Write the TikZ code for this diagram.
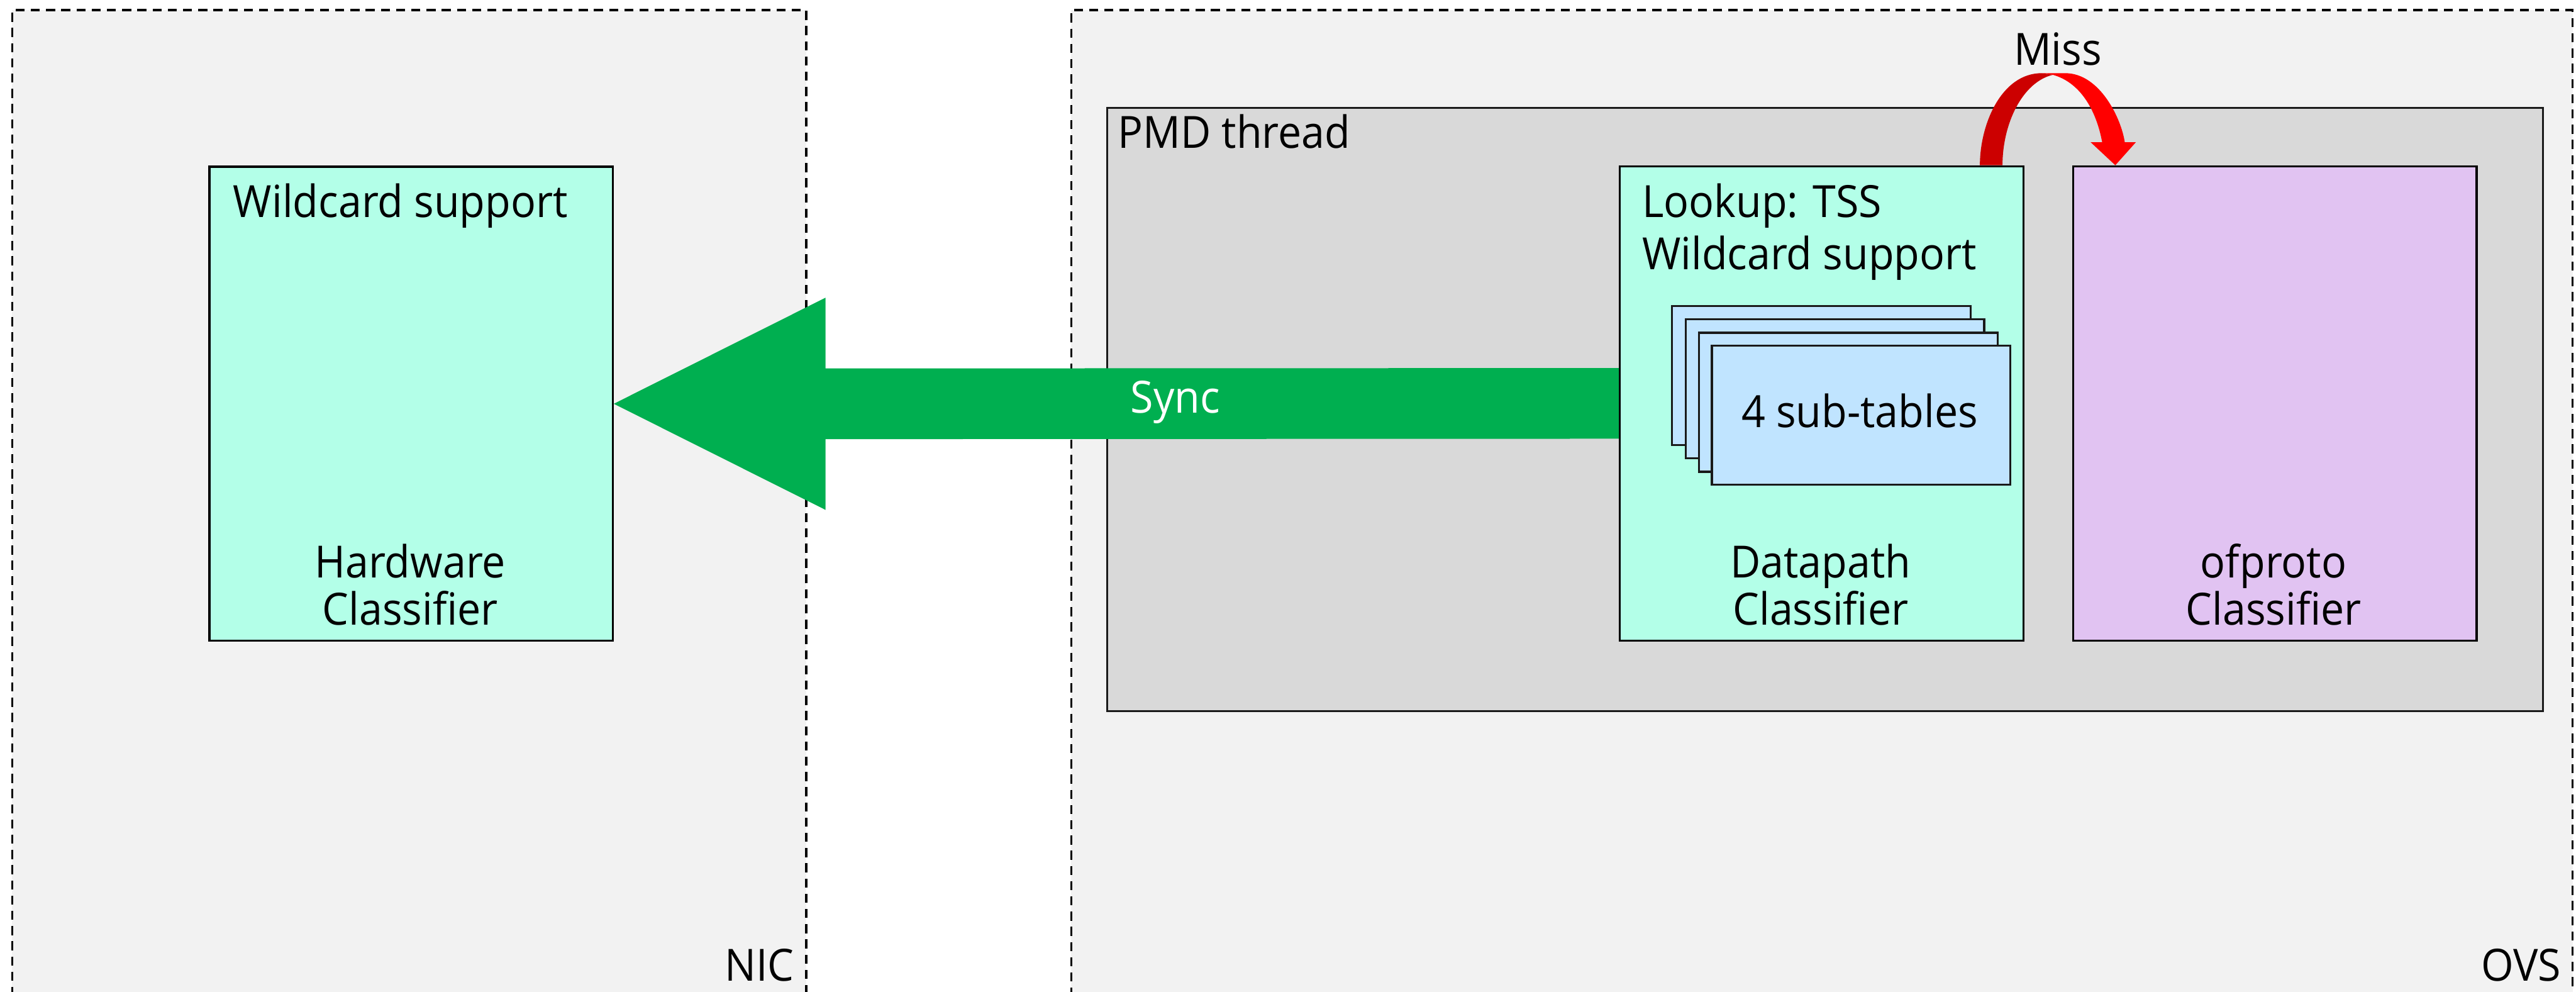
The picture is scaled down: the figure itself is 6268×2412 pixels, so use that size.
\documentclass[tikz,border=0pt]{standalone}
\usepackage{fontspec}
\setmainfont[FakeStretch=0.94]{Open Sans}
\usetikzlibrary{calc}

\definecolor{panelgray}{HTML}{F2F2F2}
\definecolor{pmdgray}{HTML}{D9D9D9}
\definecolor{aqua}{HTML}{B3FFE8}
\definecolor{lilac}{HTML}{E1C3F2}
\definecolor{tableblue}{HTML}{C0E4FF}
\definecolor{syncgreen}{HTML}{00AF50}
\definecolor{missdark}{HTML}{CC0000}
\definecolor{missred}{HTML}{FF0000}
\definecolor{edgegray}{HTML}{1A1A1A}

\begin{document}
\begin{tikzpicture}[x=0.01cm, y=-0.01cm,
  lbl/.style={inner sep=0pt, font=\fontsize{30.7pt}{36pt}\selectfont},
  dombox/.style={rectangle, anchor=north west, inner sep=0pt, draw=black, fill=panelgray,
                 line width=1.42pt, dash pattern=on 6.26pt off 4.27pt},
  pmdbox/.style={rectangle, anchor=north west, inner sep=0pt, draw=edgegray, fill=pmdgray,
                 line width=1.4pt},
  classbox/.style={rectangle, anchor=north west, inner sep=0pt, draw=black, line width=1.4pt,
                   minimum width=9.81cm, minimum height=11.53cm},
  subtable/.style={rectangle, anchor=north west, inner sep=0pt, draw=edgegray, fill=tableblue,
                   line width=1.4pt, minimum width=7.26cm, minimum height=3.38cm}]

% page frame
\useasboundingbox (0,0) rectangle (6268,2412);
\clip (0,0) rectangle (6268,2412);
\fill[white] (0,0) rectangle (6268,2412);

% NIC and OVS domains (open at the bottom of the page)
\node[dombox, minimum width=19.31cm, minimum height=24.60cm] (nic) at (27,22) {};
\node[dombox, minimum width=36.51cm, minimum height=24.60cm] (ovs) at (2604,22) {};
\node[lbl, anchor=base east] (niclbl) at (1933,2386) {NIC};
\node[lbl, anchor=base east] (ovslbl) at (6232,2386) {OVS};

% PMD thread
\node[pmdbox, minimum width=34.92cm, minimum height=14.67cm] (pmd) at (2691,260) {};
\node[lbl, anchor=base west] (pmdlbl) at (2719,360) {PMD thread};

% classifiers
\node[classbox, fill=aqua] (hw) at (507,403) {};
\node[classbox, fill=aqua] (dp) at (3939,402) {};
\node[classbox, fill=lilac] (op) at (5042,402) {};

\node[lbl, anchor=base west] (hwwild) at (567,528) {Wildcard support};
\node[lbl, anchor=base] (hwname1) at (998,1406) {Hardware};
\node[lbl, anchor=base] (hwname2) at (998,1521) {Classifier};

\node[lbl, anchor=base west] (dplookup) at (3995,528) {Lookup: TSS};
\node[lbl, anchor=base west] (dpwild) at (3995,656) {Wildcard support};
\node[lbl, anchor=base] (dpname1) at (4430,1406) {Datapath};
\node[lbl, anchor=base] (dpname2) at (4430,1521) {Classifier};

\node[lbl, anchor=base] (opname1) at (5532,1406) {ofproto};
\node[lbl, anchor=base] (opname2) at (5532,1521) {Classifier};

% stacked sub-tables
\node[subtable] (st1) at (4066,742) {};
\node[subtable] (st2) at (4099,774) {};
\node[subtable] (st3) at (4132,807) {};
\node[subtable] (st4) at (4163,839) {};
\node[lbl, anchor=base] (stlbl) at (4525,1040) {4 sub-tables};

% Sync: block arrow from the datapath classifier to the hardware classifier
\fill[syncgreen] ($(dp.west)+(0,-86)$) -- ($(dp.west)+(0,86)$)
  -- ($(hw.east)+(515,86)$) -- ($(hw.east)+(515,258)$) -- (hw.east)
  -- ($(hw.east)+(515,-258)$) -- ($(hw.east)+(515,-86)$) -- cycle;
\node[lbl, anchor=base, text=white] (synclbl) at (2860,1004) {Sync};

% Miss: curved ribbon arrow from the datapath classifier to ofproto
\coordinate (missA) at ($(dp.north east)+(-80,0)$);
\coordinate (missB) at ($(op.north west)+(105,0)$);
\fill[missred] (4968,178) -- (5025,178) .. controls (5110,178) and (5162,290) .. ($(missB)+(23,-56)$)
  -- ($(missB)+(50,-56)$) -- (missB) -- ($(missB)+(-60,-56)$) -- ($(missB)+(-32,-56)$)
  .. controls (5100,265) and (5060,200) .. (4995,182) -- cycle;
\fill[missdark] ($(missA)+(-28,0)$) .. controls +(0,-100) and +(-98,0) .. (4968,178)
  -- (4995,182) .. controls +(-75,18) and +(0,-100) .. ($(missA)+(27,0)$) -- cycle;
\node[lbl, anchor=base] (misslbl) at (5007,158) {Miss};

\end{tikzpicture}
\end{document}
